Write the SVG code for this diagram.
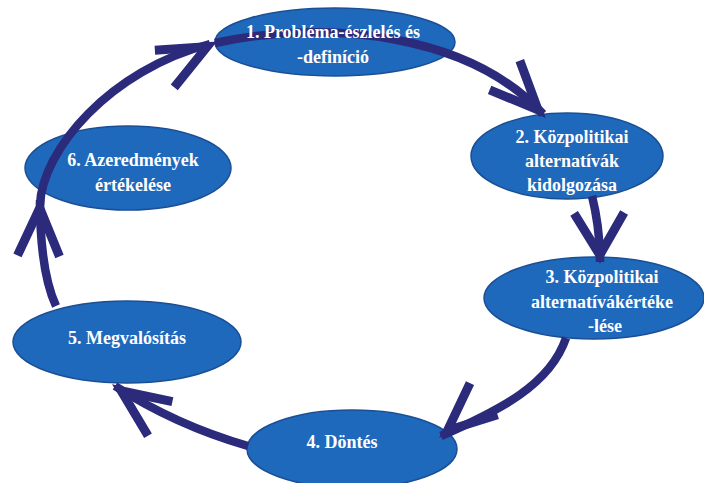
<svg xmlns="http://www.w3.org/2000/svg" xmlns:xlink="http://www.w3.org/1999/xlink" width="704" height="483" viewBox="0 0 704 483">
<style>
.node{fill:#1f69bc;stroke:#1a4f94;stroke-width:1.5}
.lbl text{font-family:'Liberation Serif','DejaVu Serif',serif;font-size:18px;font-weight:bold;fill:#ffffff;text-anchor:middle}
.shaft{fill:none;stroke:#2b2a7b;stroke-width:8.5;stroke-linecap:butt}
.head{fill:none;stroke:#2b2a7b;stroke-width:9;stroke-linejoin:miter;stroke-miterlimit:10}
</style>
<defs>
<path id="ah" d="M -58 -21 L -10 0 L -58 21"/>
<path id="ahw" d="M -52 -25 L -10 0 L -52 25"/>
</defs>
<rect width="704" height="483" fill="#ffffff"/>
<g id="n1"><ellipse class="node" cx="335" cy="42" rx="120" ry="34"/></g>
<g id="n2"><ellipse class="node" cx="567" cy="156" rx="96" ry="43"/></g>
<g id="n3"><ellipse class="node" cx="594" cy="298" rx="110" ry="41"/></g>
<g id="n4"><ellipse class="node" cx="352" cy="449" rx="105" ry="39"/></g>
<g id="n5"><ellipse class="node" cx="127" cy="342" rx="114" ry="41"/></g>
<g id="n6"><ellipse class="node" cx="128" cy="168" rx="103" ry="42"/></g>
<g id="connectors">
<path class="shaft" d="M 215 43 C 330 18, 470 35, 543 114"/>
<use xlink:href="#ah" class="head" transform="translate(545,117) rotate(46)"/>
<path class="shaft" d="M 592 196 C 598 220, 600 240, 600 262"/>
<use xlink:href="#ahw" class="head" transform="translate(600,265) rotate(89)"/>
<path class="shaft" d="M 566 338 C 550 385, 500 410, 441 436"/>
<use xlink:href="#ah" class="head" transform="translate(440,437) rotate(139)"/>
<path class="shaft" d="M 248 446 C 210 435, 160 415, 115 386"/>
<use xlink:href="#ah" class="head" transform="translate(113,385) rotate(215.5)"/>
<path class="shaft" d="M 56 306 C 44 280, 40 240, 40 200"/>
<use xlink:href="#ah" class="head" transform="translate(40,198) rotate(-88.5)"/>
<path class="shaft" d="M 40 205 C 42 150, 110 70, 210 44"/>
<use xlink:href="#ah" class="head" transform="translate(216,42) rotate(-27.5)"/>
</g>
<g id="n1-label" class="lbl"><text x="333" y="38">1. Probléma-észlelés és</text><text x="333" y="63">-definíció</text></g>
<g id="n2-label" class="lbl"><text x="572" y="143">2. Közpolitikai</text><text x="572" y="167">alternatívák</text><text x="572" y="191">kidolgozása</text></g>
<g id="n3-label" class="lbl"><text x="602" y="283">3. Közpolitikai</text><text x="602" y="308">alternatívákértéke</text><text x="605" y="332">-lése</text></g>
<g id="n4-label" class="lbl"><text x="342" y="448">4. Döntés</text></g>
<g id="n5-label" class="lbl"><text x="127" y="344">5. Megvalósítás</text></g>
<g id="n6-label" class="lbl"><text x="133" y="166">6. Azeredmények</text><text x="133" y="191">értékelése</text></g>
</svg>
